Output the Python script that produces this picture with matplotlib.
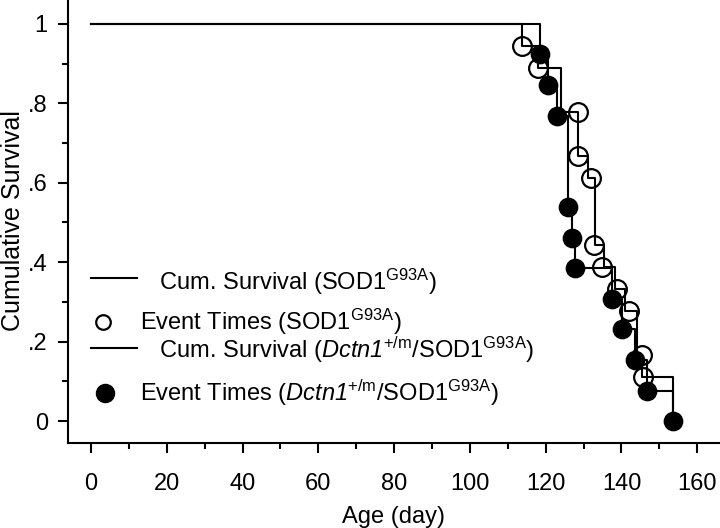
import matplotlib
matplotlib.use("Agg")
import matplotlib.pyplot as plt
from matplotlib import font_manager as fm
from matplotlib.ticker import MultipleLocator, FixedLocator

names = {f.name for f in fm.fontManager.ttflist}
narrow = "Liberation Sans Narrow" if "Liberation Sans Narrow" in names else "Liberation Sans"

plt.rcParams["font.family"] = [narrow, "DejaVu Sans"]
plt.rcParams["mathtext.fontset"] = "custom"
plt.rcParams["mathtext.rm"] = narrow
plt.rcParams["mathtext.it"] = narrow + ":italic"
plt.rcParams["mathtext.sf"] = narrow + ":italic"  # italic digits too (Dctn1)
plt.rcParams["mathtext.bf"] = narrow + ":bold"

# Kaplan-Meier curves
sod_t = [0, 113.7, 117.9, 124.0, 128.5, 131.1, 133.0, 135.4, 138.3, 140.9, 144.1, 145.4, 153.6]
sod_s = [1, .944, .889, .778, .667, .611, .444, .389, .333, .278, .167, .111, 0]
sod_ev_t = [113.7, 117.9, 128.5, 128.5, 131.9, 132.7, 134.8, 138.8, 142.0, 145.4, 145.6]
sod_ev_s = [.944, .889, .778, .667, .611, .444, .389, .333, .278, .167, .111]

dct_t = [0, 118.5, 120.6, 123.0, 125.9, 126.9, 127.7, 137.5, 140.1, 143.5, 146.7, 153.6]
dct_s = [1, .923, .846, .769, .538, .462, .385, .308, .231, .154, .077, 0]
dct_ev_t = dct_t[1:]
dct_ev_s = dct_s[1:]

x_ticks = [0, 20, 40, 60, 80, 100, 120, 140, 160]
y_ticks = [0, .2, .4, .6, .8, 1]
y_labels = ["0", ".2", ".4", ".6", ".8", "1"]

labels = [
    "   Cum. Survival (SOD1$^{\\mathrm{G93A}}$)",
    "Event Times (SOD1$^{\\mathrm{G93A}}$)",
    "   Cum. Survival ($\\mathsf{Dctn1}^{\\mathrm{{+}/m}}$/SOD1$^{\\mathrm{G93A}}$)",
    "Event Times ($\\mathsf{Dctn1}^{\\mathrm{{+}/m}}$/SOD1$^{\\mathrm{G93A}}$)",
]

fig = plt.figure(figsize=(7.2, 5.28), dpi=100)
ax = fig.add_axes([68 / 720, 85 / 528, 652 / 720, 443 / 528])

lw = 1.5
ax.step(sod_t, sod_s, where="post", color="black", lw=lw)
ax.plot(sod_ev_t, sod_ev_s, "o", ms=13.5, mfc="none", mec="black", mew=1.6)
ax.step(dct_t, dct_s, where="post", color="black", lw=lw)
ax.plot(dct_ev_t, dct_ev_s, "o", ms=13, mfc="black", mec="black", mew=1.2)

ax.set_xlim(-6.07, 166)
ax.set_ylim(-0.055, 1.06)

for s in ["top", "right"]:
    ax.spines[s].set_visible(False)
for s in ["left", "bottom"]:
    ax.spines[s].set_linewidth(1.5)

ax.xaxis.set_major_locator(FixedLocator(x_ticks))
ax.xaxis.set_minor_locator(MultipleLocator(10))
ax.yaxis.set_major_locator(FixedLocator(y_ticks))
ax.yaxis.set_minor_locator(MultipleLocator(0.1))
ax.set_yticklabels(y_labels)
ax.tick_params(which="major", length=7.5, width=1.5, labelsize=17)
ax.tick_params(which="minor", length=4.5, width=1.5)
ax.tick_params(axis="x", which="major", pad=14)
ax.tick_params(axis="y", which="major", pad=7)

ax.set_xlabel("Age (day)", fontsize=17)
ax.set_ylabel("Cumulative Survival", fontsize=18, family="Liberation Sans")
ax.xaxis.set_label_coords(0.5, -0.143)
ax.yaxis.set_label_coords(-0.066, 0.503)

# legend drawn by hand (handles and text at fixed spots like the original)
def fx(px):
    return (px - 68) / 652

def fy(py):
    return (443 - py) / 443

tr = ax.transAxes
ax.plot([fx(91), fx(137)], [fy(278), fy(278)], color="black", lw=lw, transform=tr, clip_on=False)
ax.plot([fx(103)], [fy(322)], "o", ms=10.5, mfc="none", mec="black", mew=1.6, transform=tr, clip_on=False)
ax.plot([fx(91), fx(137)], [fy(348), fy(348)], color="black", lw=lw, transform=tr, clip_on=False)
ax.plot([fx(105)], [fy(393)], "o", ms=13, mfc="black", mec="black", transform=tr, clip_on=False)

text_x = [140, 140, 140, 140]
text_base = [290, 330, 358, 401]
for lab, tx, ty in zip(labels, text_x, text_base):
    ax.text(fx(tx), fy(ty), lab, transform=tr, fontsize=17, va="baseline", ha="left")

fig.savefig("out.png", dpi=100)
